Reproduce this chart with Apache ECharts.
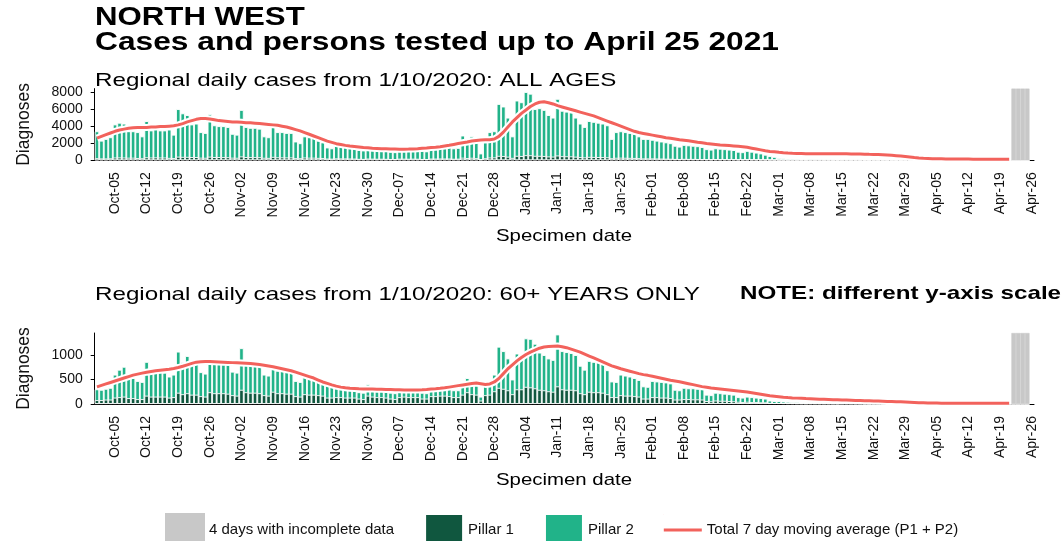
<!DOCTYPE html>
<html>
<head>
<meta charset="utf-8">
<script src="https://cdn.jsdelivr.net/npm/echarts@6/dist/echarts.min.js"></script>
<style>
  html, body { margin: 0; padding: 0; background: #fff; }
  #chart { width: 1064px; height: 541px; }
</style>
</head>
<body>
<div id="chart"></div>
<script>
// specimen dates, 1 Oct 2020 .. 26 Apr 2021 (last one is only there for the Apr-26 tick)
const firstDay = Date.UTC(2020, 9, 1);
const dayCount = 208;
const monthNames = ["Jan", "Feb", "Mar", "Apr", "May", "Jun", "Jul", "Aug", "Sep", "Oct", "Nov", "Dec"];

const tickLabels = [
  "Oct-05", "Oct-12", "Oct-19", "Oct-26", "Nov-02", "Nov-09", "Nov-16", "Nov-23", "Nov-30",
  "Dec-07", "Dec-14", "Dec-21", "Dec-28", "Jan-04", "Jan-11", "Jan-18", "Jan-25", "Feb-01",
  "Feb-08", "Feb-15", "Feb-22", "Mar-01", "Mar-08", "Mar-15", "Mar-22", "Mar-29", "Apr-05",
  "Apr-12", "Apr-19", "Apr-26",
];
const incompleteDays = ["Apr-22", "Apr-23", "Apr-24", "Apr-25"];
const yTicksAll = [0, 2000, 4000, 6000, 8000];
const yTicksOld = [0, 500, 1000];

// ALL AGES: total cases (pillar 1 + pillar 2) per day, one row per week (Mon..Sun)
const totalAll = [
  3400, 2300, 2500, 2700,
  4200, 4400, 4300, 3400, 3400, 3300, 2800,
  4600, 3500, 4300, 3500, 3500, 3600, 3000,
  6000, 5500, 5300, 4200, 4300, 3300, 3200,
  5400, 4100, 4000, 4000, 3900, 3100, 3000,
  5900, 3900, 3800, 3800, 3700, 2800, 2700,
  4500, 3300, 3300, 3200, 3200, 2200, 2000,
  2800, 2700, 2600, 2300, 2100, 1500, 1400,
  1700, 1600, 1600, 1500, 1400, 1200, 1150,
  1300, 1250, 1200, 1200, 1150, 1000, 950,
  1300, 1350, 1300, 1350, 1300, 1100, 1050,
  1500, 1500, 1550, 1600, 1600, 1400, 1450,
  2900, 2300, 2800, 2200, 800, 2100, 3300,
  3400, 6600, 6300, 5000, 2800, 7000, 6800,
  8000, 7800, 6000, 6100, 5900, 5300, 5000,
  7200, 5800, 5700, 5600, 5000, 4300, 3900,
  4600, 4500, 4400, 4300, 4100, 2500, 3300,
  3400, 3300, 3200, 3100, 2800, 2500, 2500,
  2400, 2300, 2200, 2100, 2000, 1700, 1600,
  1800, 1750, 1700, 1650, 1550, 1300, 1250,
  1400, 1350, 1300, 1250, 1200, 1000, 950,
  1100, 1000, 900, 800, 650, 500, 400,
  250, 220, 200, 200, 180, 150, 140,
  180, 170, 160, 150, 140, 120, 110,
  150, 140, 130, 130, 120, 100, 90,
  120, 110, 110, 100, 100, 80, 70,
  90, 90, 80, 80, 70, 60, 60,
  60, 60, 50, 50, 50, 40, 40,
  40, 40, 40, 30, 30, 30, 30,
  30, 30, 20, 20, 15, 10, 5,
];

// ALL AGES: pillar 1 cases per day
const pillar1All = [
  250, 220, 220, 230,
  320, 330, 320, 300, 300, 260, 240,
  350, 320, 340, 320, 320, 280, 260,
  420, 400, 400, 380, 380, 300, 290,
  420, 380, 380, 370, 360, 300, 290,
  450, 380, 370, 370, 360, 290, 280,
  400, 350, 340, 330, 330, 250, 240,
  320, 300, 300, 280, 260, 200, 190,
  230, 220, 220, 210, 200, 170, 160,
  200, 190, 180, 180, 170, 150, 140,
  190, 190, 180, 190, 180, 150, 140,
  200, 200, 210, 210, 210, 180, 190,
  300, 260, 290, 250, 120, 240, 320,
  340, 520, 500, 420, 280, 520, 500,
  600, 590, 520, 520, 500, 450, 430,
  560, 480, 470, 460, 420, 370, 340,
  400, 390, 380, 370, 350, 240, 290,
  300, 290, 280, 270, 250, 220, 220,
  220, 210, 200, 190, 180, 160, 150,
  170, 160, 160, 150, 140, 120, 115,
  130, 125, 120, 115, 110, 95, 90,
  100, 95, 85, 75, 60, 50, 40,
  30, 28, 26, 25, 22, 20, 18,
  22, 20, 20, 18, 17, 15, 14,
  18, 17, 16, 16, 15, 12, 11,
  15, 14, 13, 12, 12, 10, 9,
  11, 11, 10, 10, 9, 8, 8,
  8, 8, 7, 7, 6, 5, 5,
  5, 5, 5, 4, 4, 4, 4,
  4, 4, 3, 3, 2, 2, 1,
];

// ALL AGES: 7 day moving average (ends where the grey block starts)
const averageAll = [
  2600, 2800, 3000, 3200, 3400, 3550, 3650, 3750, 3800, 3850,
  3850, 3850, 3900, 3900, 3950, 3950, 4000, 4050, 4150, 4300,
  4500, 4650, 4800, 4900, 4900, 4850, 4750, 4650, 4600, 4550,
  4500, 4500, 4450, 4400, 4400, 4350, 4300, 4250, 4200, 4150,
  4100, 4000, 3900, 3750, 3600, 3450, 3250, 3050, 2850, 2650,
  2450, 2250, 2100, 1950, 1850, 1750, 1680, 1620, 1560, 1500,
  1460, 1420, 1390, 1360, 1340, 1320, 1310, 1300, 1300, 1310,
  1330, 1360, 1400, 1440, 1490, 1540, 1600, 1680, 1760, 1860,
  1960, 2060, 2150, 2250, 2320, 2380, 2400, 2420, 2500, 2800,
  3300, 3900, 4500, 5000, 5500, 5900, 6300, 6600, 6800, 6850,
  6750, 6600, 6400, 6250, 6100, 5950, 5800, 5650, 5500, 5350,
  5200, 5000, 4800, 4600, 4400, 4200, 4000, 3800, 3600, 3400,
  3250, 3150, 3050, 2950, 2850, 2750, 2650, 2580, 2500, 2420,
  2350, 2280, 2200, 2120, 2050, 1980, 1920, 1860, 1800, 1760,
  1720, 1680, 1640, 1600, 1520, 1420, 1320, 1220, 1120, 1040,
  1000, 940, 890, 850, 820, 800, 790, 780, 780, 780,
  780, 780, 780, 770, 770, 760, 760, 750, 740, 730,
  720, 700, 690, 670, 650, 620, 580, 540, 490, 440,
  380, 320, 270, 230, 210, 190, 180, 170, 160, 150,
  150, 145, 140, 140, 135, 130, 130, 125, 125, 120, 120, 120, 120,
];

// 60+ YEARS: total cases per day
const totalOld = [
  300, 290, 310, 330,
  600, 700, 760, 550, 530, 470, 450,
  860, 650, 640, 660, 640, 560, 600,
  1070, 850, 980, 820, 820, 650, 620,
  930, 820, 830, 820, 800, 660, 640,
  1140, 830, 820, 810, 790, 600, 580,
  820, 680, 680, 660, 640, 470, 450,
  600, 580, 560, 520, 500, 380, 360,
  320, 310, 300, 300, 290, 240, 230,
  400, 330, 310, 300, 290, 230, 220,
  290, 300, 290, 290, 280, 230, 220,
  320, 320, 330, 340, 330, 280, 280,
  400, 530, 420, 400, 150, 380, 400,
  600, 1170, 1080, 930, 500, 1030, 1000,
  1340, 1330, 1230, 1050, 1000, 930, 900,
  1420, 1080, 1060, 1040, 1000, 780, 700,
  880, 860, 850, 830, 690, 460, 450,
  600, 580, 560, 530, 490, 360, 350,
  470, 460, 450, 440, 420, 290, 280,
  330, 320, 320, 310, 300, 190, 180,
  230, 220, 210, 200, 190, 140, 130,
  150, 140, 130, 120, 110, 70, 60,
  60, 50, 45, 40, 35, 30, 25,
  30, 30, 25, 25, 20, 18, 15,
  20, 20, 18, 16, 15, 12, 10,
  14, 13, 12, 11, 10, 8, 8,
  10, 9, 8, 8, 7, 6, 6,
  7, 7, 6, 6, 5, 5, 5,
  5, 5, 5, 4, 4, 4, 3,
  4, 3, 3, 3, 2, 2, 1,
];

// 60+ YEARS: pillar 1 cases per day
const pillar1Old = [
  80, 80, 90, 90,
  130, 140, 150, 120, 120, 100, 100,
  170, 150, 150, 150, 150, 130, 140,
  230, 200, 220, 190, 190, 160, 150,
  240, 220, 220, 220, 210, 180, 170,
  290, 240, 230, 230, 220, 180, 170,
  250, 220, 220, 210, 210, 160, 150,
  200, 190, 190, 180, 170, 130, 130,
  140, 140, 130, 130, 130, 110, 100,
  170, 150, 140, 140, 130, 110, 100,
  140, 150, 140, 140, 140, 110, 110,
  160, 160, 170, 170, 160, 140, 140,
  190, 240, 200, 190, 70, 180, 190,
  260, 330, 310, 280, 200, 300, 300,
  350, 340, 320, 290, 280, 260, 250,
  360, 300, 290, 290, 280, 220, 200,
  250, 240, 240, 230, 200, 140, 140,
  180, 170, 170, 160, 150, 110, 110,
  140, 140, 130, 130, 120, 90, 90,
  100, 100, 95, 95, 90, 60, 55,
  70, 65, 65, 60, 55, 45, 40,
  45, 40, 40, 35, 35, 22, 20,
  20, 17, 15, 14, 12, 10, 8,
  10, 10, 8, 8, 7, 6, 5,
  7, 7, 6, 5, 5, 4, 3,
  5, 4, 4, 4, 3, 3, 3,
  3, 3, 3, 3, 2, 2, 2,
  2, 2, 2, 2, 2, 2, 2,
  2, 2, 2, 1, 1, 1, 1,
  1, 1, 1, 1, 1, 1, 0,
];

// 60+ YEARS: 7 day moving average
const averageOld = [
  350, 380, 410, 440, 470, 500, 530, 560, 590, 610,
  630, 650, 665, 680, 690, 700, 710, 725, 745, 770,
  800, 830, 855, 865, 870, 870, 865, 860, 855, 850,
  845, 840, 835, 830, 825, 815, 805, 790, 775, 760,
  740, 720, 700, 680, 650, 620, 590, 560, 530, 490,
  450, 420, 390, 365, 345, 330, 320, 315, 310, 308,
  306, 304, 302, 300, 298, 295, 292, 290, 288, 286,
  285, 288, 292, 298, 305, 312, 320, 330, 345, 360,
  375, 390, 405, 420, 430, 415, 400, 410, 450, 520,
  620, 720, 800, 880, 950, 1010, 1060, 1100, 1140, 1165,
  1175, 1180, 1184, 1170, 1150, 1120, 1090, 1060, 1020, 980,
  940, 900, 860, 820, 780, 750, 720, 695, 670, 645,
  620, 600, 585, 565, 545, 525, 505, 485, 470, 455,
  435, 415, 395, 375, 355, 340, 325, 315, 305, 295,
  285, 275, 265, 255, 245, 230, 215, 200, 185, 170,
  160, 150, 140, 132, 125, 120, 115, 110, 106, 102,
  98, 95, 92, 88, 85, 82, 80, 77, 74, 71,
  68, 65, 62, 59, 56, 53, 50, 47, 44, 40,
  36, 32, 28, 25, 22, 20, 18, 16, 15, 14,
  14, 14, 14, 14, 14, 14, 14, 14, 14, 14, 14, 14, 14,
];

const days = [];
for (let i = 0; i < dayCount; i++) {
  const d = new Date(firstDay + i * 86400000);
  days.push(monthNames[d.getUTCMonth()] + "-" + String(d.getUTCDate()).padStart(2, "0"));
}

const FONT = '"Liberation Sans", Arial, sans-serif';
const GREY = "#c8c8c8";
const DARK = "#10573f";
const TEAL = "#21b389";
const RED = "#f2625c";
const NAMES = ["4 days with incomplete data", "Pillar 1", "Pillar 2", "Total 7 day moving average (P1 + P2)"];
// a thin horizontal stroke inside a 38x32 box (tiny corner slivers keep the box size)
const LINE_ICON = "path://M0,0L0.3,0L0.3,0.3L0,0.3Z M0,14.5L38,14.5L38,17.5L0,17.5Z M37.7,31.7L38,31.7L38,32L37.7,32Z";

const isWeekTick = (idx, value) => tickLabels.indexOf(value) !== -1;

function xAxisFor(gridIndex) {
  return {
    type: "category",
    gridIndex: gridIndex,
    data: days,
    boundaryGap: true,
    axisLine: { lineStyle: { color: "#000", width: 1 } },
    axisTick: { alignWithLabel: true, interval: isWeekTick, length: 4, lineStyle: { color: "#000" } },
    axisLabel: {
      interval: isWeekTick,
      rotate: 90,
      margin: 12,
      color: "#111",
      fontSize: 14,
      fontFamily: FONT,
    },
  };
}

function yAxisFor(gridIndex, max, step, ticks) {
  return {
    type: "value",
    gridIndex: gridIndex,
    min: 0,
    max: max,
    interval: step,
    name: "Diagnoses",
    nameLocation: "middle",
    nameGap: 62,
    nameTextStyle: { fontSize: 17.5, color: "#111", fontFamily: FONT },
    splitLine: { show: false },
    axisLine: { show: true, lineStyle: { color: "#000", width: 1 } },
    axisTick: { show: true, length: 4, customValues: ticks, lineStyle: { color: "#000" } },
    axisLabel: {
      customValues: ticks,
      margin: 12,
      fontSize: 14,
      color: "#111",
      fontFamily: FONT,
      formatter: (v) => String(v),
    },
  };
}

function panelSeries(idx, total, pillar1, average, greyTop) {
  const barCommon = {
    type: "bar",
    xAxisIndex: idx,
    yAxisIndex: idx,
    barGap: "-100%",
    barCategoryGap: "0%",
    animation: false,
  };
  return [
    Object.assign({}, barCommon, {
      name: "Pillar 2",
      data: total,
      itemStyle: { color: TEAL, borderColor: "#fff", borderWidth: 0.9 },
    }),
    Object.assign({}, barCommon, {
      name: "Pillar 1",
      data: pillar1,
      itemStyle: { color: DARK, borderColor: "#fff", borderWidth: 0.9 },
    }),
    Object.assign({}, barCommon, {
      name: "4 days with incomplete data",
      data: days.map((d) => (incompleteDays.indexOf(d) !== -1 ? greyTop : null)),
      itemStyle: { color: GREY, borderColor: GREY, borderWidth: 0.5 },
    }),
    {
      // white halo under the average line
      type: "line",
      xAxisIndex: idx,
      yAxisIndex: idx,
      data: average,
      symbol: "none",
      silent: true,
      z: 3,
      lineStyle: { color: "#fff", width: 7 },
      animation: false,
    },
    {
      name: "Total 7 day moving average (P1 + P2)",
      type: "line",
      xAxisIndex: idx,
      yAxisIndex: idx,
      data: average,
      symbol: "none",
      z: 4,
      lineStyle: { color: RED, width: 3 },
      itemStyle: { color: RED },
      animation: false,
    },
  ];
}

function stretchedText(x, y, text, size, bold, scaleX, align) {
  return {
    type: "text",
    x: x,
    y: y,
    scaleX: scaleX,
    style: {
      text: text,
      fill: "#000",
      font: (bold ? "bold " : "") + size + "px " + FONT,
      align: align || "left",
      verticalAlign: "middle",
    },
  };
}

const chart = echarts.init(document.getElementById("chart"));
chart.setOption({
  animation: false,
  backgroundColor: "#fff",
  textStyle: { fontFamily: FONT },
  grid: [
    { left: 94.7, right: 30, top: 88.6, height: 71.7 },
    { left: 94.7, right: 30, top: 333, height: 71 },
  ],
  legend: {
    data: [
      { name: NAMES[0], icon: "rect" },
      { name: NAMES[1], icon: "rect" },
      { name: NAMES[2], icon: "rect" },
      { name: NAMES[3], icon: LINE_ICON, itemStyle: { color: RED } },
    ],
    left: 160,
    top: 508,
    itemWidth: 38,
    itemHeight: 32,
    itemGap: 30,
    selectedMode: false,
    textStyle: { fontSize: 15, color: "#111", fontFamily: FONT },
  },
  graphic: [
    stretchedText(95, 17.5, "NORTH WEST", 26, true, 1.2),
    stretchedText(95, 43, "Cases and persons tested up to April 25 2021", 26, true, 1.22),
    stretchedText(95, 80.5, "Regional daily cases from 1/10/2020: ALL AGES", 18.6, false, 1.3),
    stretchedText(95, 295, "Regional daily cases from 1/10/2020: 60+ YEARS ONLY", 18.6, false, 1.3),
    stretchedText(740, 294, "NOTE: different y-axis scale", 18.6, true, 1.3),
    stretchedText(564, 236, "Specimen date", 17, false, 1.2, "center"),
    stretchedText(564, 480, "Specimen date", 17, false, 1.2, "center"),
  ],
  xAxis: [xAxisFor(0), xAxisFor(1)],
  yAxis: [yAxisFor(0, 8400, 2000, yTicksAll), yAxisFor(1, 1450, 500, yTicksOld)],
  series: panelSeries(0, totalAll, pillar1All, averageAll, 8400).concat(
    panelSeries(1, totalOld, pillar1Old, averageOld, 1450)
  ),
});
</script>
</body>
</html>
